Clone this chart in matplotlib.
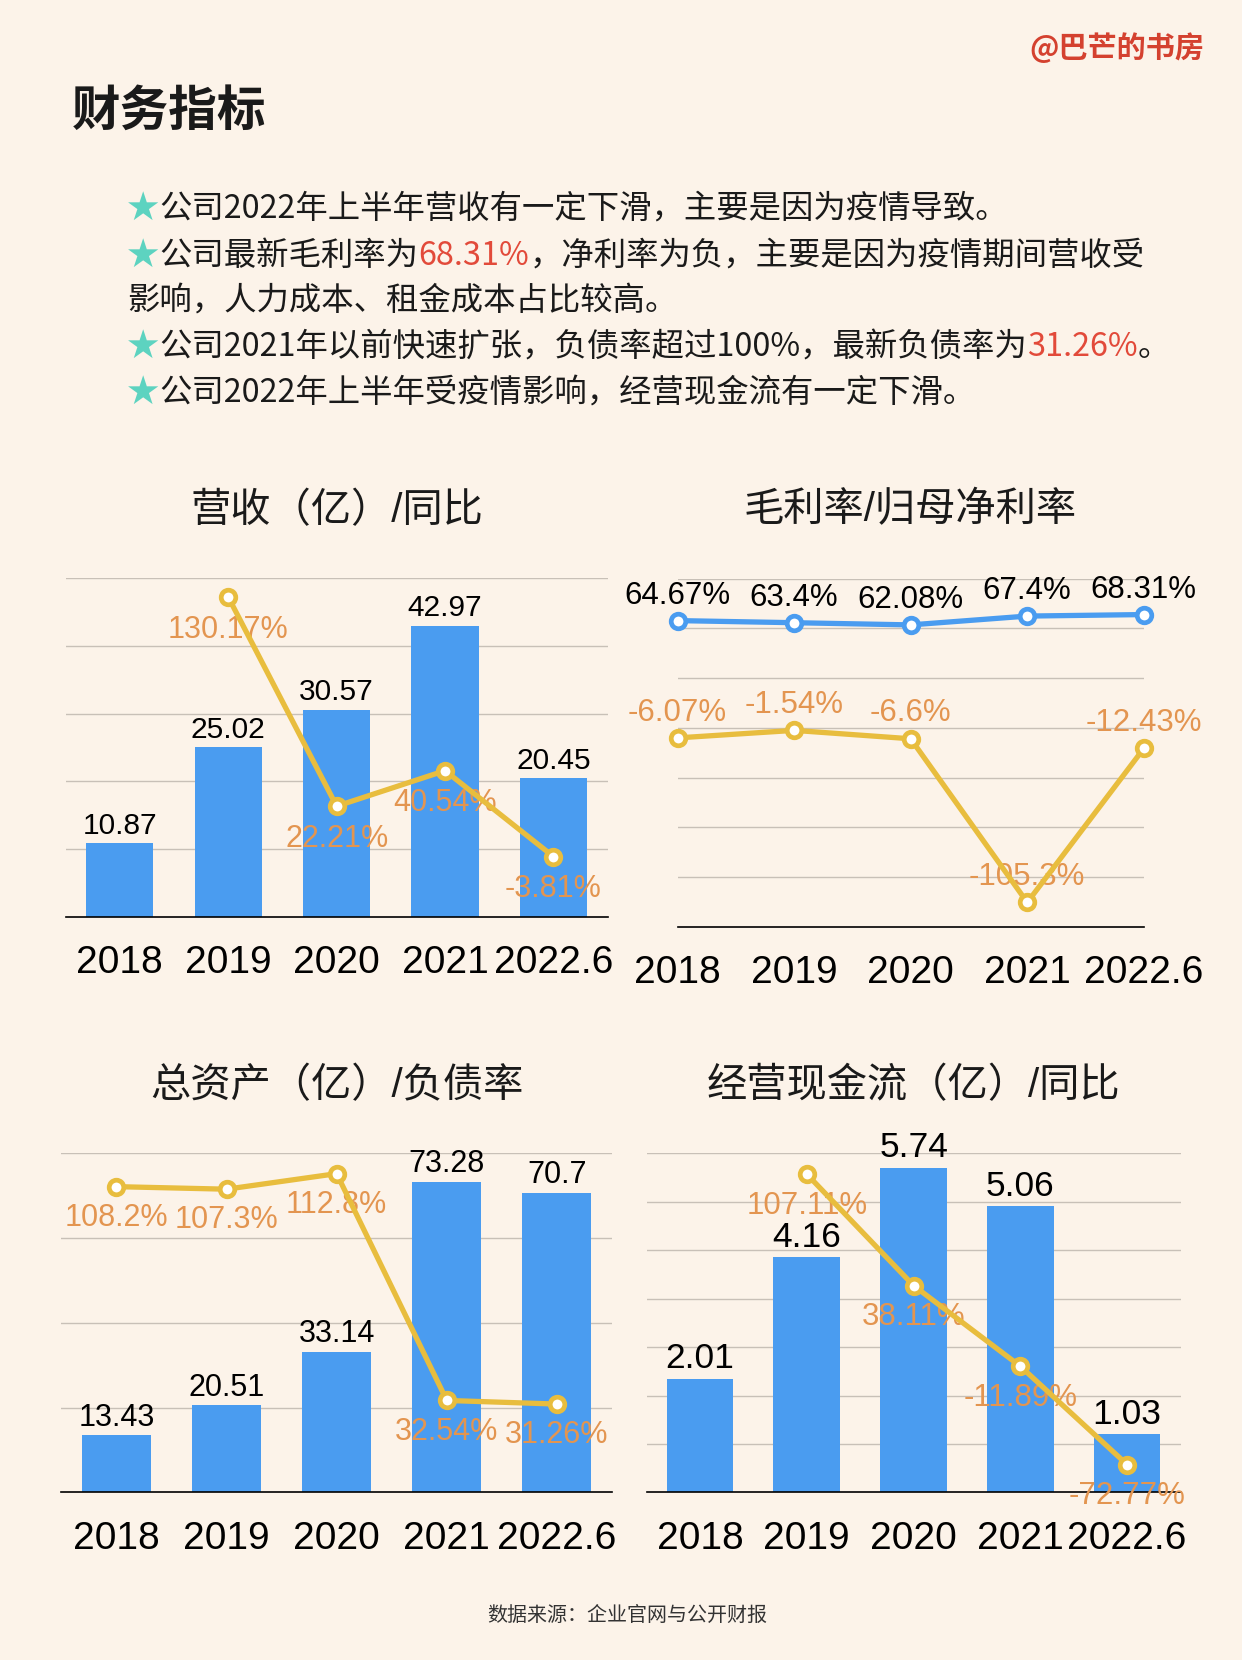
import numpy as np
import matplotlib
matplotlib.use("Agg")
import matplotlib.pyplot as plt

plt.rcParams['font.family'] = ['Liberation Sans', 'Noto Sans CJK SC', 'DejaVu Sans']
CJK = ['Noto Sans CJK SC', 'DejaVu Sans']

# data
years = ["2018", "2019", "2020", "2021", "2022.6"]

revenue = [10.87, 25.02, 30.57, 42.97, 20.45]
revenue_yoy = [np.nan, 130.17, 22.21, 40.54, -3.81]

gross_margin = [64.67, 63.4, 62.08, 67.4, 68.31]
net_margin = [-6.07, -1.54, -6.6, -105.3, -12.43]

total_assets = [13.43, 20.51, 33.14, 73.28, 70.7]
debt_ratio = [108.2, 107.3, 112.8, 32.54, 31.26]

op_cash = [2.01, 4.16, 5.74, 5.06, 1.03]
op_cash_yoy = [np.nan, 107.11, 38.11, -11.89, -72.77]

BG = "#FCF3E9"
BLUE = "#4A9CF0"
GOLD = "#E8BD3E"
ORANGE = "#E39550"
GRID = "#C8C0B7"
DARK = "#1A1A1A"
RED = "#E24A3A"
TEAL = "#5DD3C0"

W, H = 1242, 1660
fig = plt.figure(figsize=(W / 100, H / 100), dpi=100, facecolor=BG)
renderer = fig.canvas.get_renderer()
x = np.arange(len(years))


def px_axes(left, top, right, bottom):
    return fig.add_axes([left / W, 1 - bottom / H, (right - left) / W, (bottom - top) / H])


def style(ax, ylim, grid_vals, xlim=(-0.5, 4.5)):
    ax.set_facecolor(BG)
    ax.set_xlim(*xlim)
    ax.set_ylim(*ylim)
    ax.set_yticks(grid_vals)
    ax.tick_params(axis='y', length=0, labelleft=False)
    ax.grid(axis='y', color=GRID, lw=1)
    ax.set_axisbelow(True)
    for s in ['left', 'right', 'top']:
        ax.spines[s].set_visible(False)
    ax.spines['bottom'].set_color('black')
    ax.spines['bottom'].set_linewidth(1.2)
    ax.set_xticks(x)
    ax.set_xticklabels(years, fontsize=28, color='black')
    ax.tick_params(axis='x', length=0, pad=20.5)


def gold_line(ax, vals, color=GOLD):
    ax.plot(x, vals, color=color, lw=3.8, marker='o', ms=10.5, mfc='white',
            mec=color, mew=3.4, clip_on=False, zorder=3)


def labels(ax, vals, dy, color, size=22, fmt="{:g}"):
    for i, v in enumerate(vals):
        if np.isnan(v):
            continue
        ax.annotate(fmt.format(v), (i, v), xytext=(0, dy), textcoords='offset points',
                    ha='center', va='center', fontsize=size, color=color, zorder=2,
                    annotation_clip=False)


def title(cx, cy, s):
    fig.text(cx / W, 1 - cy / H, s, ha='center', va='center', fontsize=29, color=DARK)


# header
fig.text(1204 / W, 1 - 48 / H, "@巴芒的书房", ha='right', va='center', fontsize=21,
         weight='bold', color="#D4412F", family=CJK)
fig.text(72 / W, 1 - 111 / H, "财务指标", ha='left', va='center', fontsize=35,
         weight='bold', color=DARK, family=CJK)

bullets = [
    (209, [("★", TEAL), ("公司2022年上半年营收有一定下滑，主要是因为疫情导致。", DARK)]),
    (256, [("★", TEAL), ("公司最新毛利率为", DARK), ("68.31%", RED),
           ("，净利率为负，主要是因为疫情期间营收受", DARK)]),
    (301, [("影响，人力成本、租金成本占比较高。", DARK)]),
    (347, [("★", TEAL), ("公司2021年以前快速扩张，负债率超过100%，最新负债率为", DARK),
           ("31.26%", RED), ("。", DARK)]),
    (393, [("★", TEAL), ("公司2022年上半年受疫情影响，经营现金流有一定下滑。", DARK)]),
]
for y, runs in bullets:
    xpos = 127
    for s, c in runs:
        t = fig.text(xpos / W, 1 - y / H, s, ha='left', va='center', fontsize=23.3,
                     color=c, family=CJK)
        xpos += t.get_window_extent(renderer).width

# chart 1: revenue / yoy
ax1 = px_axes(65.6, 578, 607.7, 917)
style(ax1, (0, 50), [10, 20, 30, 40, 50])
ax1.bar(x, revenue, width=0.62, color=BLUE, zorder=2)
labels(ax1, revenue, 12.5, 'black', size=21.5)
t1 = ax1.twinx()
t1.set_ylim(-35, 140)
t1.axis('off')
gold_line(t1, revenue_yoy)
labels(t1, revenue_yoy, -23.5, ORANGE, fmt="{:g}%")
title(336.7, 511, "营收（亿）/同比")

# chart 2: gross margin / net margin
ax2 = px_axes(677.5, 578.6, 1143.8, 926.8)
style(ax2, (-120, 90), [-90, -60, -30, 0, 30, 60, 90], xlim=(0, 4))
gold_line(ax2, gross_margin, BLUE)
gold_line(ax2, net_margin, GOLD)
labels(ax2, gross_margin, 17.8, 'black', size=22.5, fmt="{:g}%")
labels(ax2, net_margin, 18.2, ORANGE, size=22.5, fmt="{:g}%")
title(910.6, 510, "毛利率/归母净利率")

# chart 3: total assets / debt ratio
ax3 = px_axes(61.3, 1153.3, 612, 1492.4)
style(ax3, (0, 80), [20, 40, 60, 80])
ax3.bar(x, total_assets, width=0.627, color=BLUE, zorder=2)
labels(ax3, total_assets, 12.8, 'black', size=22)
t3 = ax3.twinx()
t3.set_ylim(0, 120)
t3.axis('off')
gold_line(t3, debt_ratio)
labels(t3, debt_ratio, -22.5, ORANGE, fmt="{:g}%")
title(336.6, 1086, "总资产（亿）/负债率")

# chart 4: operating cash flow / yoy
ax4 = px_axes(646.6, 1153.3, 1180.5, 1492.4)
style(ax4, (0, 6), np.linspace(0, 6, 8)[1:])
ax4.bar(x, op_cash, width=0.625, color=BLUE, zorder=2)
labels(ax4, op_cash, 14.5, 'black', size=25.5)
t4 = ax4.twinx()
t4.set_ylim(-90, 120)
t4.axis('off')
gold_line(t4, op_cash_yoy)
labels(t4, op_cash_yoy, -22.8, ORANGE, size=22.5, fmt="{:g}%")
title(913.5, 1086, "经营现金流（亿）/同比")

fig.text(627.5 / W, 1 - 1615 / H, "数据来源：企业官网与公开财报", ha='center', va='center',
         fontsize=14.4, color="#333333", family=CJK)

fig.savefig("out.png", dpi=100, facecolor=BG)
